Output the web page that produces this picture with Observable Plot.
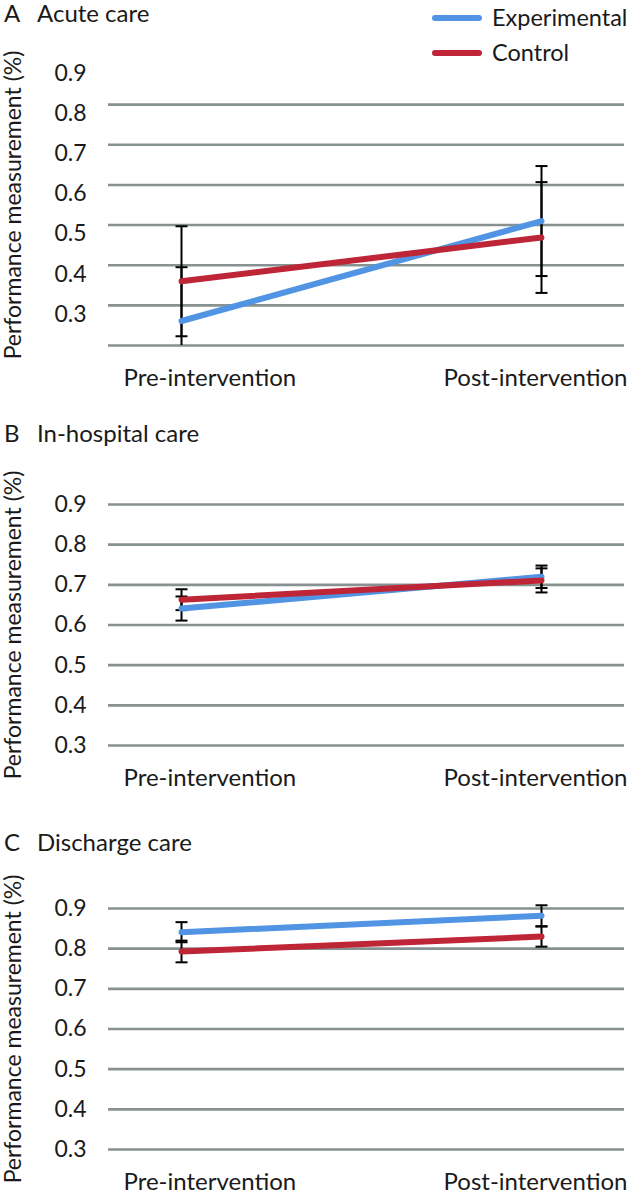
<!DOCTYPE html>
<html><head><meta charset="utf-8">
<script src="https://cdn.jsdelivr.net/npm/d3@7"></script>
<script src="https://cdn.jsdelivr.net/npm/@observablehq/plot@0.6"></script>
<style>
body{margin:0;background:#fff;font-family:Lato,"Open Sans",sans-serif;color:#1a1a1a;}
#root{width:629px;}
.panel{position:relative;width:629px;}
.panel svg{display:block;}
.ttl{position:absolute;font-size:24px;line-height:26px;white-space:nowrap;}
.lg{position:absolute;font-size:23.5px;line-height:24px;white-space:nowrap;}
.sw{position:absolute;width:50px;height:6px;border-radius:3px;}
</style></head><body><div id="root"></div>
<script>
// ---- data ----
const categories = ["Pre-intervention", "Post-intervention"];
const seriesNames = ["Experimental", "Control"];
const seriesColors = ["#5194e3", "#be2537"];
const yTickLabels = [0.3, 0.4, 0.5, 0.6, 0.7, 0.8, 0.9];
const gridAcute = [0.2, 0.3, 0.4, 0.5, 0.6, 0.7, 0.8];
const gridOther = [0.3, 0.4, 0.5, 0.6, 0.7, 0.8, 0.9];
const panelLetters = ["A", "B", "C"];
const panelNames = ["Acute care", "In-hospital care", "Discharge care"];
const yTitle = "Performance measurement (%)";

const acuteExperimental = [0.261, 0.510];
const acuteExperimentalErr = [0.134, 0.137];
const acuteControl = [0.360, 0.469];
const acuteControlErr = [0.137, 0.138];

const inhospExperimental = [0.641, 0.720];
const inhospExperimentalErr = [0.030, 0.028];
const inhospControl = [0.663, 0.711];
const inhospControlErr = [0.026, 0.030];

const dischargeExperimental = [0.841, 0.882];
const dischargeExperimentalErr = [0.025, 0.026];
const dischargeControl = [0.793, 0.830];
const dischargeControlErr = [0.027, 0.025];

// ---- drawing ----
const capSymbol = {draw(ctx, size) { const w = Math.sqrt(size / Math.PI); ctx.moveTo(-w, 0); ctx.lineTo(w, 0); }};

function buildRows(exp, expErr, ctl, ctlErr) {
  const rows = [];
  categories.forEach((c, i) => {
    rows.push({series: seriesNames[0], cat: c, v: exp[i], lo: exp[i] - expErr[i], hi: exp[i] + expErr[i]});
    rows.push({series: seriesNames[1], cat: c, v: ctl[i], lo: ctl[i] - ctlErr[i], hi: ctl[i] + ctlErr[i]});
  });
  return rows;
}

function panel(o) {
  const rows = buildRows(o.exp, o.expErr, o.ctl, o.ctlErr);
  const caps = rows.flatMap(r => [{cat: r.cat, y: r.lo}, {cat: r.cat, y: r.hi}]);
  const txt = {fontSize: 23, fill: "#1a1a1a"};
  const lab = {fontSize: 24, fill: "#1a1a1a"};
  const svg = Plot.plot({
    width: 629, height: o.height,
    marginTop: o.marginTop, marginBottom: o.marginBottom, marginLeft: 108, marginRight: 5,
    style: {fontFamily: "Lato, 'Open Sans', sans-serif", fontSize: "23px", color: "#1a1a1a", background: "transparent", overflow: "visible"},
    x: {type: "point", domain: categories, padding: 0, insetLeft: 73, insetRight: 83, axis: null},
    y: {domain: o.domain, axis: null, label: null},
    color: {domain: seriesNames, range: seriesColors},
    marks: [
      Plot.ruleY(o.grid, {stroke: "#879191", strokeWidth: 2.6}),
      Plot.axisY(yTickLabels, {tickSize: 0, tickPadding: 22, dy: o.tickDy, tickFormat: ".1f", label: null, ...txt}),
      Plot.ruleX(rows, {x: "cat", y1: "lo", y2: "hi", stroke: "#000", strokeWidth: 2, clip: o.clip}),
      Plot.dot(caps, {x: "cat", y: "y", symbol: capSymbol, r: 6, stroke: "#000", strokeWidth: 2, fill: "none", clip: o.clip}),
      Plot.line(rows, {x: "cat", y: "v", z: "series", stroke: "series", strokeWidth: 6, strokeLinecap: "round"}),
      Plot.text([categories[0]], {x: d => d, frameAnchor: "bottom", dy: 40, dx: -58, textAnchor: "start", ...lab}),
      Plot.text([categories[1]], {x: d => d, frameAnchor: "bottom", dy: 40, dx: 86, textAnchor: "end", ...lab}),
      Plot.text([yTitle], {frameAnchor: "left", textAnchor: "middle", rotate: -90, dx: -95, ...txt})
    ]
  });
  const div = document.createElement("div");
  div.className = "panel";
  div.style.height = o.height + "px";
  div.appendChild(svg);
  const l = document.createElement("div"); l.className = "ttl"; l.style.left = "4px"; l.style.top = o.titleTop + "px"; l.textContent = o.letter; div.appendChild(l);
  const n = document.createElement("div"); n.className = "ttl"; n.style.left = "37px"; n.style.top = o.titleTop + "px"; n.textContent = o.name; div.appendChild(n);
  if (o.legend) {
    seriesNames.forEach((s, i) => {
      const sw = document.createElement("div"); sw.className = "sw"; sw.style.left = "432px"; sw.style.top = (15 + i * 35) + "px"; sw.style.background = seriesColors[i]; div.appendChild(sw);
      const t = document.createElement("div"); t.className = "lg"; t.style.left = "492px"; t.style.top = (5 + i * 35) + "px"; t.textContent = s; div.appendChild(t);
    });
  }
  return div;
}

const root = document.getElementById("root");
root.appendChild(panel({letter: panelLetters[0], name: panelNames[0], height: 400, marginTop: 64, marginBottom: 55, domain: [0.2, 0.9], grid: gridAcute, tickDy: 9, clip: true, legend: true, titleTop: 0,
  exp: acuteExperimental, expErr: acuteExperimentalErr, ctl: acuteControl, ctlErr: acuteControlErr}));
root.appendChild(panel({letter: panelLetters[1], name: panelNames[1], height: 400, marginTop: 104, marginBottom: 55, domain: [0.3, 0.9], grid: gridOther, tickDy: 0, clip: false, legend: false, titleTop: 20,
  exp: inhospExperimental, expErr: inhospExperimentalErr, ctl: inhospControl, ctlErr: inhospControlErr}));
root.appendChild(panel({letter: panelLetters[2], name: panelNames[2], height: 398, marginTop: 108, marginBottom: 49, domain: [0.3, 0.9], grid: gridOther, tickDy: 0, clip: false, legend: false, titleTop: 29,
  exp: dischargeExperimental, expErr: dischargeExperimentalErr, ctl: dischargeControl, ctlErr: dischargeControlErr}));
</script></body></html>
